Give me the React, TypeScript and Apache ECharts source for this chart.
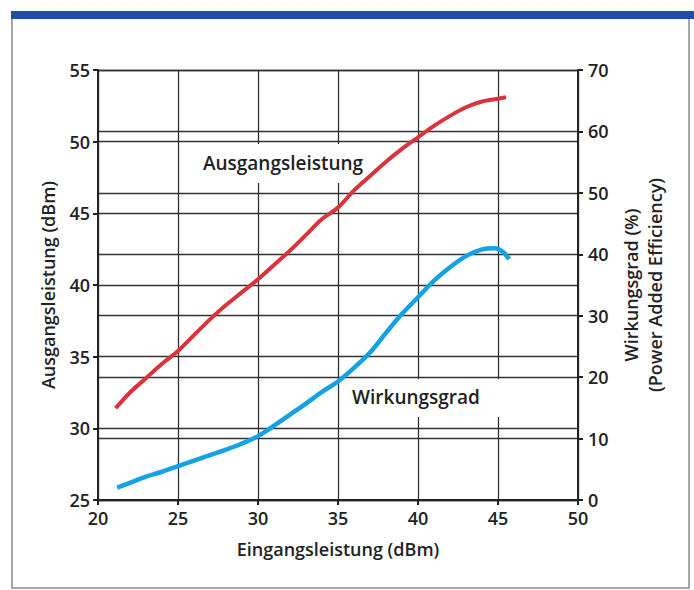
import React, { useEffect, useRef } from "react";
import * as echarts from "echarts";

// Ausgangsleistung (dBm) vs Eingangsleistung (dBm)
const outInput = [21.1, 22, 23, 24, 25, 26, 27, 28, 29, 30, 31, 32, 33, 34, 35, 36, 37, 38, 39, 40, 41, 42, 43, 44, 45, 45.5];
const outPower = [31.4, 32.5, 33.5, 34.5, 35.4, 36.5, 37.6, 38.6, 39.5, 40.4, 41.4, 42.4, 43.5, 44.6, 45.4, 46.6, 47.6, 48.6, 49.5, 50.3, 51.1, 51.8, 52.4, 52.8, 53.0, 53.1];

// Wirkungsgrad (%) vs Eingangsleistung (dBm)
const effInput = [21.2, 22, 23, 24, 25, 26, 27, 28, 29, 30, 31, 32, 33, 34, 35, 36, 37, 38, 39, 40, 41, 42, 43, 44, 44.8, 45.3, 45.7];
const effValue = [2.0, 2.8, 3.8, 4.6, 5.5, 6.4, 7.3, 8.2, 9.2, 10.4, 12.1, 13.9, 15.7, 17.6, 19.3, 21.5, 24.0, 27.2, 30.3, 33.0, 35.7, 37.9, 39.7, 40.8, 41.0, 40.4, 39.2];

const xTicks = [20, 25, 30, 35, 40, 45, 50];
const leftTicks = [25, 30, 35, 40, 45, 50, 55];
const rightTicks = [0, 10, 20, 30, 40, 50, 60, 70];

const FONT = "'Open Sans', 'Noto Sans', sans-serif";
const INK = "#222";

export default function App() {
  const ref = useRef<HTMLDivElement>(null);
  useEffect(() => {
    if (!ref.current) return;
    const chart = echarts.init(ref.current, undefined, { renderer: "svg" });
    const axisLine = { show: true, onZero: false, lineStyle: { color: INK, width: 2 } };
    const split = { show: true, lineStyle: { color: "#333", width: 1.3 } };
    const tick = { show: true, inside: false, length: 5, lineStyle: { color: INK, width: 2 } };
    const label = { color: INK, fontFamily: FONT, fontSize: 18, fontWeight: 600 };
    const nameStyle = { color: INK, fontFamily: FONT, fontSize: 18, fontWeight: 600 };
    chart.setOption({
      animation: false,
      backgroundColor: "#fff",
      grid: { left: 98, right: 116, top: 70, bottom: 90, containLabel: false },
      xAxis: {
        type: "value",
        min: xTicks[0],
        max: xTicks[xTicks.length - 1],
        interval: 5,
        name: "Eingangsleistung (dBm)",
        nameLocation: "middle",
        nameGap: 40,
        nameTextStyle: nameStyle,
        axisLine,
        axisTick: tick,
        splitLine: split,
        axisLabel: { ...label, margin: 9 },
      },
      yAxis: [
        {
          type: "value",
          min: leftTicks[0],
          max: leftTicks[leftTicks.length - 1],
          interval: 5,
          position: "left",
          name: "Ausgangsleistung (dBm)",
          nameLocation: "middle",
          nameGap: 41,
          nameRotate: 90,
          nameTextStyle: nameStyle,
          axisLine,
          axisTick: tick,
          splitLine: split,
          axisLabel: { ...label, margin: 8 },
        },
        {
          type: "value",
          min: rightTicks[0],
          max: rightTicks[rightTicks.length - 1],
          interval: 10,
          position: "right",
          name: "Wirkungsgrad (%)\n(Power Added Efficiency)",
          nameLocation: "middle",
          nameGap: 36,
          nameRotate: 90,
          nameTextStyle: { ...nameStyle, lineHeight: 24 },
          axisLine,
          axisTick: tick,
          splitLine: split,
          axisLabel: { ...label, margin: 10 },
        },
      ],
      graphic: [
        { type: "rect", shape: { x: 12, y: 15, width: 677, height: 573 }, style: { fill: "none", stroke: "#8a8a8a", lineWidth: 1.5 }, z: 0 },
        { type: "rect", shape: { x: 11, y: 11, width: 683, height: 8 }, style: { fill: "#1f4fa3" }, z: 1 },
        { type: "rect", shape: { x: 190, y: 144, width: 182, height: 39 }, style: { fill: "#fff" }, z: 5 },
        { type: "text", x: 283, y: 163, style: { text: "Ausgangsleistung", fill: INK, font: `600 19px ${FONT}`, align: "center", verticalAlign: "middle" }, z: 6 },
        { type: "rect", shape: { x: 345, y: 379, width: 155, height: 38 }, style: { fill: "#fff" }, z: 5 },
        { type: "text", x: 416, y: 397, style: { text: "Wirkungsgrad", fill: INK, font: `600 19px ${FONT}`, align: "center", verticalAlign: "middle" }, z: 6 },
      ],
      series: [
        {
          type: "line",
          yAxisIndex: 0,
          data: outInput.map((x, i) => [x, outPower[i]]),
          showSymbol: false,
          smooth: 0.3,
          lineStyle: { color: "#d8343c", width: 4 },
          z: 10,
        },
        {
          type: "line",
          yAxisIndex: 1,
          data: effInput.map((x, i) => [x, effValue[i]]),
          showSymbol: false,
          smooth: 0.3,
          lineStyle: { color: "#15a2e2", width: 4.5 },
          z: 10,
        },
      ],
    });
    return () => chart.dispose();
  }, []);
  return <div ref={ref} style={{ position: "absolute", left: 0, top: 0, width: 694, height: 590 }} />;
}
